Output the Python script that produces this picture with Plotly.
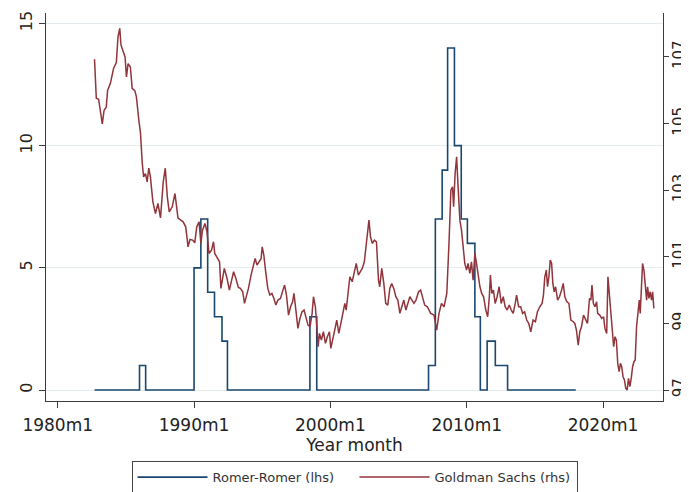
import plotly.graph_objects as go

# Romer-Romer (lhs) step series: change points (decimal year) and values
rr_years = [1982.70, 1986.00, 1986.45, 1990.00, 1990.50, 1991.00, 1991.50, 1992.05,
            1992.45, 1998.50, 1999.00, 2007.20, 2007.70, 2008.20, 2008.60, 2009.10,
            2009.60, 2010.05, 2010.60, 2011.00, 2011.50, 2012.10, 2013.00, 2018.00]
rr_values = [0, 1, 0, 5, 7, 4, 3, 2,
             0, 3, 0, 1, 7, 9, 14, 10,
             7, 6, 3, 0, 2, 1, 0, 0]

# Goldman Sachs FCI (rhs)
gs_years = [
    1982.70, 1982.83, 1983.00, 1983.10, 1983.27, 1983.40, 1983.56, 1983.66, 1983.86, 1984.10,
    1984.30, 1984.42, 1984.55, 1984.64, 1984.80, 1984.94, 1985.04, 1985.16, 1985.33, 1985.46,
    1985.65, 1985.77, 1985.95, 1986.07, 1986.20, 1986.30, 1986.44, 1986.56, 1986.68, 1986.80,
    1986.98, 1987.17, 1987.35, 1987.54, 1987.74, 1987.89, 1988.04, 1988.18, 1988.40, 1988.60,
    1988.72, 1988.82, 1989.02, 1989.20, 1989.39, 1989.56, 1989.70, 1989.90, 1990.05, 1990.20,
    1990.37, 1990.50, 1990.62, 1990.80, 1990.95, 1991.10, 1991.28, 1991.43, 1991.52, 1991.72,
    1991.87, 1991.97, 1992.11, 1992.22, 1992.42, 1992.59, 1992.76, 1992.90, 1993.07, 1993.25,
    1993.40, 1993.57, 1993.70, 1993.84, 1993.99, 1994.18, 1994.33, 1994.48, 1994.62, 1994.77,
    1994.92, 1995.00, 1995.12, 1995.24, 1995.41, 1995.56, 1995.71, 1995.86, 1996.00, 1996.15,
    1996.34, 1996.52, 1996.64, 1996.78, 1996.93, 1997.08, 1997.23, 1997.33, 1997.48, 1997.62,
    1997.77, 1997.92, 1998.07, 1998.22, 1998.36, 1998.51, 1998.66, 1998.76, 1998.90, 1999.00,
    1999.10, 1999.20, 1999.34, 1999.49, 1999.64, 1999.78, 1999.93, 2000.03, 2000.18, 2000.32,
    2000.47, 2000.62, 2000.77, 2000.91, 2001.06, 2001.16, 2001.31, 2001.43, 2001.60, 2001.75,
    2001.90, 2002.05, 2002.20, 2002.34, 2002.49, 2002.64, 2002.74, 2002.83, 2002.94, 2003.08,
    2003.23, 2003.38, 2003.53, 2003.62, 2003.77, 2003.92, 2004.06, 2004.21, 2004.36, 2004.50,
    2004.65, 2004.80, 2004.95, 2005.10, 2005.24, 2005.39, 2005.54, 2005.69, 2005.83, 2005.98,
    2006.13, 2006.28, 2006.47, 2006.62, 2006.77, 2006.92, 2007.11, 2007.36, 2007.60, 2007.80,
    2007.97, 2008.15, 2008.34, 2008.54, 2008.71, 2008.84, 2008.96, 2009.04, 2009.15, 2009.26,
    2009.37, 2009.50, 2009.62, 2009.74, 2009.86, 2009.99, 2010.10, 2010.23, 2010.35, 2010.47,
    2010.60, 2010.72, 2010.84, 2010.97, 2011.10, 2011.24, 2011.40, 2011.54, 2011.66, 2011.74,
    2011.84, 2011.96, 2012.09, 2012.23, 2012.38, 2012.53, 2012.68, 2012.82, 2012.97, 2013.12,
    2013.27, 2013.41, 2013.56, 2013.66, 2013.81, 2013.96, 2014.10, 2014.25, 2014.40, 2014.55,
    2014.70, 2014.87, 2015.04, 2015.19, 2015.36, 2015.53, 2015.63, 2015.73, 2015.84, 2015.93,
    2016.03, 2016.13, 2016.23, 2016.32, 2016.42, 2016.52, 2016.67, 2016.81, 2016.96, 2017.08,
    2017.20, 2017.35, 2017.50, 2017.64, 2017.82, 2017.93, 2018.05, 2018.18, 2018.30, 2018.42,
    2018.57, 2018.72, 2018.86, 2019.01, 2019.11, 2019.19, 2019.29, 2019.41, 2019.53, 2019.61,
    2019.76, 2019.90, 2020.04, 2020.14, 2020.27, 2020.36, 2020.49, 2020.59, 2020.69, 2020.78,
    2020.88, 2020.98, 2021.08, 2021.18, 2021.28, 2021.37, 2021.47, 2021.57, 2021.67, 2021.77,
    2021.87, 2021.97, 2022.07, 2022.17, 2022.27, 2022.36, 2022.46, 2022.56, 2022.66, 2022.73,
    2022.80, 2022.90, 2023.00, 2023.10, 2023.20, 2023.27, 2023.37, 2023.46, 2023.56, 2023.64,
    2023.73]
gs_values = [
    106.93, 105.76, 105.73, 105.40, 104.99, 105.40, 105.49, 106.00, 106.20, 106.66,
    106.83, 107.60, 107.86, 107.36, 107.16, 107.00, 106.40, 106.80, 106.70, 106.06,
    105.99, 105.81, 105.10, 104.72, 103.82, 103.40, 103.50, 103.25, 103.66, 103.40,
    102.65, 102.30, 102.60, 102.17, 103.25, 103.66, 102.80, 102.35, 102.50, 102.90,
    102.50, 102.17, 102.10, 102.05, 101.90, 101.30, 101.52, 101.50, 101.42, 101.90,
    102.05, 101.40, 101.80, 102.00, 101.75, 101.10, 101.20, 101.45, 101.10, 100.95,
    100.85, 100.05, 100.35, 100.65, 100.35, 100.00, 100.30, 100.55, 100.35, 100.08,
    100.05, 99.95, 99.60, 99.80, 100.05, 100.45, 100.70, 100.95, 100.75, 100.85,
    100.95, 101.30, 101.05, 100.60, 100.05, 99.85, 99.90, 99.75, 99.55, 99.70,
    99.75, 100.00, 100.15, 99.85, 99.25, 99.50, 99.65, 99.90, 99.40, 98.85,
    99.15, 99.35, 99.40, 99.20, 98.95, 98.90, 99.30, 99.80, 99.50, 98.95,
    98.30, 98.70, 98.50, 98.75, 98.40, 98.60, 98.75, 98.25, 98.60, 98.80,
    99.10, 98.70, 99.00, 99.30, 99.60, 99.40, 100.00, 100.40, 100.25, 100.50,
    100.80, 100.45, 100.55, 100.65, 100.85, 101.50, 101.80, 102.10, 101.60, 101.40,
    101.50, 101.45, 100.30, 100.10, 100.65, 100.20, 99.60, 99.55, 100.05, 100.20,
    100.05, 99.80, 99.70, 99.30, 99.50, 99.70, 99.40, 99.60, 99.80, 99.70,
    99.60, 99.70, 99.95, 100.00, 99.80, 99.55, 99.50, 99.30, 99.25, 98.80,
    99.30, 99.60, 99.50, 99.90, 101.50, 103.00, 103.10, 102.50, 103.50, 104.00,
    103.10, 102.10, 101.80, 101.30, 100.80, 100.60, 100.80, 100.50, 100.85, 100.30,
    101.10, 100.80, 100.40, 100.10, 99.90, 99.80, 99.40, 99.20, 99.80, 100.45,
    99.90, 100.00, 99.60, 99.80, 100.10, 99.60, 99.80, 99.50, 99.40, 99.55,
    99.40, 99.30, 99.60, 99.85, 99.50, 99.50, 99.30, 99.35, 99.10, 99.00,
    98.75, 99.10, 99.05, 99.35, 99.50, 99.60, 99.85, 100.40, 100.60, 100.10,
    100.40, 100.90, 100.80, 100.20, 99.95, 100.10, 99.70, 99.80, 100.00, 100.20,
    99.80, 99.65, 99.60, 99.10, 99.05, 99.00, 98.80, 98.35, 98.75, 98.90,
    99.25, 99.10, 99.00, 99.75, 99.70, 100.15, 99.60, 99.50, 99.65, 99.30,
    99.25, 99.15, 99.20, 98.85, 98.70, 100.40, 99.80, 99.30, 98.70, 98.30,
    98.60, 98.50, 97.80, 97.55, 97.80, 97.70, 97.40, 97.30, 97.05, 97.00,
    97.35, 97.10, 97.35, 97.70, 97.85, 97.90, 98.90, 99.30, 99.70, 99.30,
    100.20, 100.80, 100.60, 100.10, 99.70, 100.10, 99.75, 99.95, 99.70, 99.95,
    99.45]

x_tick_vals = [1980, 1990, 2000, 2010, 2020]
x_tick_text = ["1980m1", "1990m1", "2000m1", "2010m1", "2020m1"]
left_ticks = [0, 5, 10, 15]
right_ticks = [97, 99, 101, 103, 105, 107]

BLUE = "#1a476f"
RED = "#90353b"
AXIS = "#3c3c3c"
FONT = "DejaVu Sans"

fig = go.Figure()
fig.add_trace(go.Scatter(x=rr_years, y=rr_values, mode="lines", line_shape="hv",
                         line=dict(color=BLUE, width=1.6), name="Romer-Romer (lhs)",
                         yaxis="y"))
fig.add_trace(go.Scatter(x=gs_years, y=gs_values, mode="lines",
                         line=dict(color=RED, width=1.5), name="Goldman Sachs (rhs)",
                         yaxis="y2"))

# page body adds an 8px offset; figure sized so the plot lands where the reference has it
fig.update_layout(
    width=681, height=484,
    margin=dict(l=38, r=26, t=5, b=91, autoexpand=False),
    paper_bgcolor="white", plot_bgcolor="white",
    font=dict(family=FONT, color="#222222"),
    showlegend=True,
    legend=dict(orientation="h", x=0.5, xanchor="center", y=-0.155, yanchor="top",
                bordercolor="#444444", borderwidth=1, font=dict(size=13, color="#333333"),
                entrywidth=137, traceorder="normal", itemwidth=70),
    xaxis=dict(range=[1979.14, 2024.4], tickvals=x_tick_vals, ticktext=x_tick_text,
               ticks="outside", ticklen=6, tickcolor=AXIS, showline=True, linecolor=AXIS,
               linewidth=1.3, showgrid=False, zeroline=False, tickfont=dict(size=17),
               automargin=False, ticklabelstandoff=2,
               title=dict(text="Year month", font=dict(size=17), standoff=0)),
    yaxis=dict(range=[-0.45, 15.43], tickvals=left_ticks, ticks="outside", ticklen=6,
               tickcolor=AXIS, showline=True, linecolor=AXIS, linewidth=1.3,
               showgrid=True, gridcolor="#e4ecef", gridwidth=1, zeroline=False,
               tickangle=-90, tickfont=dict(size=16), automargin=False),
    yaxis2=dict(range=[96.67, 108.32], tickvals=right_ticks, overlaying="y", side="right",
                ticks="outside", ticklen=5, tickcolor=AXIS, showline=True, linecolor=AXIS,
                linewidth=1.3, showgrid=False, zeroline=False, tickangle=-90,
                tickfont=dict(size=15), automargin=False, ticklabelstandoff=-3),
)

fig.write_html("out.html")
